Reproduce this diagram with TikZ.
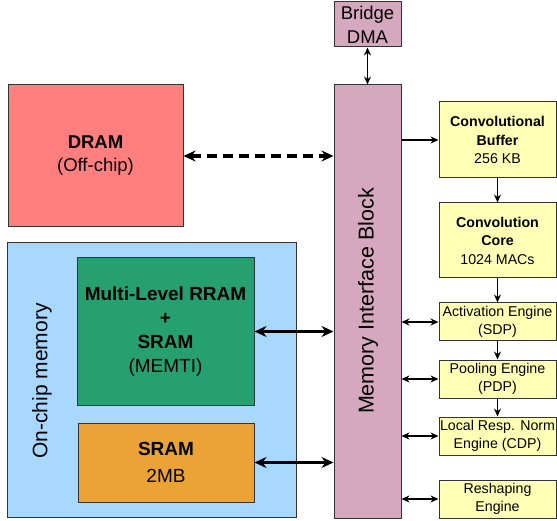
\documentclass[tikz,border=0pt]{standalone}
\usepackage{fontspec}
\setmainfont{Liberation Sans}
\usetikzlibrary{arrows.meta}
\definecolor{dramc}{HTML}{FF7F7F}
\definecolor{onchipc}{HTML}{A8D8FF}
\definecolor{greenc}{HTML}{269F71}
\definecolor{orangec}{HTML}{EBA337}
\definecolor{pinkc}{HTML}{D5A8BE}
\definecolor{yellowc}{HTML}{FFFFB6}
\definecolor{edgec}{HTML}{333333}
\tikzset{
  box/.style={draw=edgec, line width=1pt, rectangle, inner sep=0pt, align=center},
  thinarrow/.style={line width=1.6pt, {Stealth[length=8pt,width=7pt]}-{Stealth[length=8pt,width=7pt]}},
  onearrow/.style={line width=1.6pt, -{Stealth[length=8pt,width=7pt]}},
  thickarrow/.style={line width=3.2pt, {Stealth[length=12pt,width=11pt]}-{Stealth[length=12pt,width=11pt]}},
  dasharrow/.style={line width=3.2pt, dash pattern=on 10pt off 6pt, {Stealth[length=12pt,width=11pt]}-{Stealth[length=12pt,width=11pt]}},
  bigtext/.style={font=\fontsize{18.5}{23}\selectfont},
  smalltext/.style={font=\fontsize{14.2}{18.5}\selectfont},
}
\begin{document}
\begin{tikzpicture}[x=1pt,y=-1pt]
\useasboundingbox (0,0) rectangle (557,521);
% left side
\node[box, fill=dramc, minimum width=175pt, minimum height=142pt, bigtext] (dram) at (95.5,156) {\textbf{DRAM}\\(Off-chip)};
\node[box, fill=onchipc, minimum width=289pt, minimum height=274pt] (onchip) at (151.5,380) {};
\node[rotate=90, font=\fontsize{21}{24}\selectfont] (onchiplabel) at (42,381) {On-chip memory};
\node[box, fill=greenc, minimum width=177pt, minimum height=147pt, font=\fontsize{19}{24}\selectfont] (mlr) at (165.5,331.5) {\textbf{Multi-Level RRAM}\\\textbf{+}\\\textbf{SRAM}\\(MEMTI)};
\node[box, fill=orangec, minimum width=176pt, minimum height=79pt, font=\fontsize{19}{27}\selectfont] (sram) at (166,462.5) {\textbf{SRAM}\\2MB};
% middle
\node[box, fill=pinkc, minimum width=67pt, minimum height=45pt, font=\fontsize{18.5}{24}\selectfont] (bridge) at (367.5,24.5) {Bridge\\DMA};
\node[box, fill=pinkc, minimum width=67pt, minimum height=433pt] (mib) at (367.5,301.5) {};
\node[rotate=90, font=\fontsize{21.5}{24}\selectfont] (miblabel) at (368,301) {Memory Interface Block};
% right
\node[box, fill=yellowc, minimum width=117pt, minimum height=76pt, smalltext] (buf) at (497.5,140) {\textbf{Convolutional}\\\textbf{Buffer}\\256 KB};
\node[box, fill=yellowc, minimum width=117pt, minimum height=75pt, smalltext] (core) at (497.5,240.5) {\textbf{Convolution}\\\textbf{Core}\\1024 MACs};
\node[box, fill=yellowc, minimum width=117pt, minimum height=38pt, smalltext] (act) at (497.5,322) {Activation Engine\\(SDP)};
\node[box, fill=yellowc, minimum width=117pt, minimum height=38pt, smalltext] (pool) at (497.5,379) {Pooling Engine\\(PDP)};
\node[box, fill=yellowc, minimum width=117pt, minimum height=38pt, smalltext] (lrn) at (497.5,436) {Local Resp. Norm\\Engine (CDP)};
\node[box, fill=yellowc, minimum width=117pt, minimum height=38pt, smalltext] (resh) at (497.5,499) {Reshaping\\Engine};
% connectors
\draw[thinarrow] (bridge.south) -- (mib.north);
\draw[dasharrow] (dram.east) -- (mib.west |- dram.east);
\draw[thickarrow] (mlr.east) -- (mib.west |- mlr.east);
\draw[thickarrow] (sram.east) -- (mib.west |- sram.east);
\draw[onearrow] (mib.east |- buf.west) -- (buf.west);
\draw[onearrow] (buf.south) -- (core.north);
\draw[onearrow] (core.south) -- (act.north);
\draw[onearrow] (act.south) -- (pool.north);
\draw[onearrow] (pool.south) -- (lrn.north);
\draw[thinarrow] (mib.east |- act.west) -- (act.west);
\draw[thinarrow] (mib.east |- pool.west) -- (pool.west);
\draw[thinarrow] (mib.east |- lrn.west) -- (lrn.west);
\draw[thinarrow] (mib.east |- resh.west) -- (resh.west);
\end{tikzpicture}
\end{document}
